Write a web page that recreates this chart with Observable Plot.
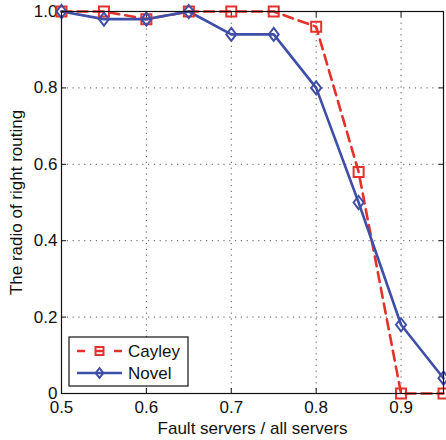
<!DOCTYPE html>
<html>
<head>
<meta charset="utf-8">
<script src="https://cdn.jsdelivr.net/npm/d3@7"></script>
<script src="https://cdn.jsdelivr.net/npm/@observablehq/plot@0.6"></script>
<style>
  html, body { margin: 0; padding: 0; background: #fff; }
  #chart { position: relative; width: 446px; height: 440px; }
</style>
</head>
<body>
<div id="chart"></div>
<script>
// Fraction of faulty servers on the x axis
const faultRatio = [0.5, 0.55, 0.6, 0.65, 0.7, 0.75, 0.8, 0.85, 0.9, 0.95];
// Ratio of correctly routed packets for each scheme
const cayley = [1, 1, 0.98, 1, 1, 1, 0.96, 0.58, 0, 0];
const novel = [1, 0.98, 0.98, 1, 0.94, 0.94, 0.8, 0.5, 0.18, 0.04];
const seriesNames = ["Cayley", "Novel"];
const xTicks = [0.5, 0.6, 0.7, 0.8, 0.9];
const yTicks = [0, 0.2, 0.4, 0.6, 0.8, 1.0];

const RED = "#e5312b";
const BLUE = "#3f4ea6";
const FONT = "'Liberation Sans', Arial, Helvetica, sans-serif";

// Marker shapes: open square and a slightly tall diamond
const squareSym = {
  draw(ctx, size) {
    const r = Math.sqrt(size / Math.PI);
    ctx.rect(-r, -r, 2 * r, 2 * r);
  }
};
const diamondSym = {
  draw(ctx, size) {
    const r = Math.sqrt(size / Math.PI);
    ctx.moveTo(0, -1.3 * r);
    ctx.lineTo(r, 0);
    ctx.lineTo(0, 1.3 * r);
    ctx.lineTo(-r, 0);
    ctx.closePath();
  }
};

const rows = [];
faultRatio.forEach((x, i) => {
  rows.push({x, y: cayley[i], s: seriesNames[0]});
  rows.push({x, y: novel[i], s: seriesNames[1]});
});
const cRows = rows.filter(d => d.s === "Cayley");
const nRows = rows.filter(d => d.s === "Novel");

const fmtY = d => d === 0 ? "0" : d.toFixed(1);
const fmtX = d => d.toFixed(1);
const gridDash = "1.2,4.6";

const plot = Plot.plot({
  width: 446,
  height: 440,
  marginLeft: 61,
  marginRight: 3,
  marginTop: 11,
  marginBottom: 47,
  style: {fontFamily: FONT, fontSize: "17px", color: "#111", background: "#fff"},
  x: {domain: [0.5, 0.95]},
  y: {domain: [0, 1]},
  marks: [
    Plot.ruleX(xTicks.slice(1), {stroke: "#555", strokeDasharray: gridDash, strokeWidth: 1}),
    Plot.ruleY(yTicks.slice(1, -1), {stroke: "#555", strokeDasharray: gridDash, strokeWidth: 1}),
    Plot.axisX({ticks: xTicks, tickSize: -5, tickPadding: 12, tickFormat: fmtX,
      label: "Fault servers / all servers", labelAnchor: "center", labelOffset: 40, labelArrow: "none", stroke: "#111"}),
    Plot.axisX({anchor: "top", ticks: xTicks, tickSize: -5, tickFormat: () => "", label: null, stroke: "#111"}),
    Plot.axisY({ticks: yTicks, tickSize: -5, tickPadding: 9, tickFormat: fmtY,
      label: "The radio of right routing", labelAnchor: "center", labelOffset: 52, labelArrow: "none", stroke: "#111"}),
    Plot.axisY({anchor: "right", ticks: yTicks, tickSize: -5, tickFormat: () => "", label: null, stroke: "#111"}),
    Plot.line(cRows, {x: "x", y: "y", stroke: RED, strokeWidth: 2.6, strokeDasharray: "10,6"}),
    Plot.line(nRows, {x: "x", y: "y", stroke: BLUE, strokeWidth: 2.6}),
    Plot.dot(cRows, {x: "x", y: "y", symbol: squareSym, r: 5, stroke: RED, strokeWidth: 2, fill: "none"}),
    Plot.dot(nRows, {x: "x", y: "y", symbol: diamondSym, r: 5, stroke: BLUE, strokeWidth: 2, fill: "none"}),
    Plot.frame({stroke: "#111", strokeWidth: 1.2})
  ]
});

document.getElementById("chart").appendChild(plot);

// Legend box in the lower-left corner of the plotting area
const svg = d3.select(plot);
const lg = svg.append("g").attr("transform", "translate(69,337)");
lg.append("rect").attr("width", 119).attr("height", 49)
  .attr("fill", "#fff").attr("stroke", "#111").attr("stroke-width", 1.2);
const entries = [
  {name: seriesNames[0], color: RED, dash: "8,10.5", sym: squareSym, r: 4},
  {name: seriesNames[1], color: BLUE, dash: null, sym: diamondSym, r: 3.8}
];
entries.forEach((e, i) => {
  const y = 14 + i * 22;
  lg.append("line").attr("x1", 8).attr("x2", 53).attr("y1", y).attr("y2", y)
    .attr("stroke", e.color).attr("stroke-width", 2.6)
    .attr("stroke-dasharray", e.dash);
  lg.append("path").attr("transform", `translate(30.5,${y})`)
    .attr("d", d3.symbol(e.sym, Math.PI * e.r * e.r)())
    .attr("fill", "none").attr("stroke", e.color).attr("stroke-width", 2);
  lg.append("text").attr("x", 59).attr("y", y).attr("dy", "0.36em")
    .attr("text-anchor", "start")
    .attr("font-family", FONT).attr("font-size", 17).attr("fill", "#111")
    .text(e.name);
});
</script>
</body>
</html>
